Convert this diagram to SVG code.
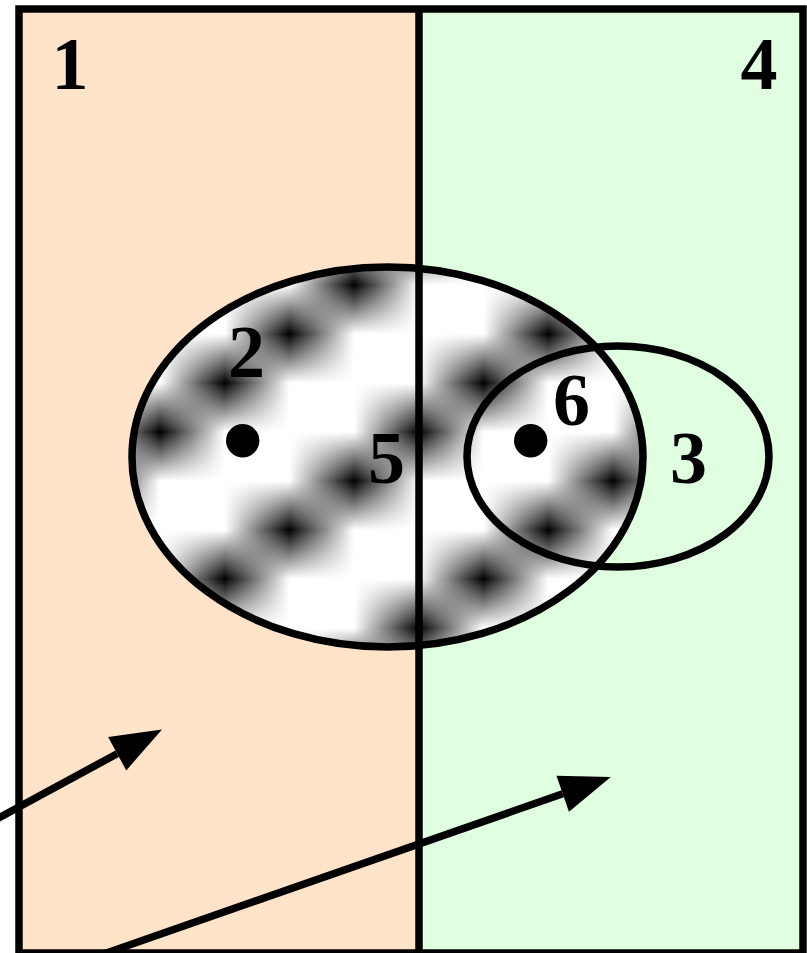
<svg xmlns="http://www.w3.org/2000/svg" xmlns:xlink="http://www.w3.org/1999/xlink" width="807" height="953" viewBox="0 0 807 953">
<style>
.ln{fill:none;stroke:#000;stroke-width:7.5}
.lbl{font-family:"Liberation Serif","Times New Roman",serif;font-weight:bold;font-size:74px;fill:#000;text-anchor:middle}
.dot{fill:#000}
.arr{stroke:#000;stroke-width:7.5;fill:none;marker-end:url(#head)}
</style>
<defs>
<linearGradient id="tx" x1="0" y1="0" x2="1" y2="0">
<stop offset="0" stop-color="#000" stop-opacity="0"/>
<stop offset="0.5" stop-color="#000" stop-opacity="1"/>
<stop offset="1" stop-color="#000" stop-opacity="0"/>
</linearGradient>
<linearGradient id="ty" x1="0" y1="0" x2="0" y2="1">
<stop offset="0" stop-color="#000"/>
<stop offset="0.5" stop-color="#fff"/>
<stop offset="1" stop-color="#000"/>
</linearGradient>
<mask id="my" maskContentUnits="objectBoundingBox">
<rect x="0" y="0" width="1" height="1" fill="url(#ty)"/>
</mask>
<rect id="spot" x="-64.7" y="-49" width="129.4" height="98" fill="url(#tx)" mask="url(#my)"/>
<clipPath id="bigClip"><ellipse cx="387.5" cy="457" rx="255.5" ry="190"/></clipPath>
<marker id="head" markerUnits="userSpaceOnUse" markerWidth="60" markerHeight="44" viewBox="0 -22 60 44" refX="0" refY="0" orient="auto" overflow="visible">
<path d="M0,-19 L51,0 L0,19 Z" fill="#000"/>
</marker>
</defs>

<g id="region1">
<rect x="19" y="9" width="400" height="944" fill="#FFE4CA"/>
</g>
<g id="region4">
<rect x="419" y="9" width="384" height="944" fill="#E0FFE0"/>
</g>

<g id="region5" clip-path="url(#bigClip)">
<rect x="130" y="265" width="515" height="385" fill="#fff"/>
<use href="#spot" x="95.3" y="481"/>
<use href="#spot" x="160" y="432"/>
<use href="#spot" x="224.7" y="383"/>
<use href="#spot" x="289.4" y="334"/>
<use href="#spot" x="354.1" y="285"/>
<use href="#spot" x="418.8" y="236"/>
<use href="#spot" x="95.3" y="677"/>
<use href="#spot" x="160" y="628"/>
<use href="#spot" x="224.7" y="579"/>
<use href="#spot" x="289.4" y="530"/>
<use href="#spot" x="354.1" y="481"/>
<use href="#spot" x="418.8" y="432"/>
<use href="#spot" x="483.5" y="383"/>
<use href="#spot" x="548.2" y="334"/>
<use href="#spot" x="612.9" y="285"/>
<use href="#spot" x="677.6" y="236"/>
<use href="#spot" x="354.1" y="677"/>
<use href="#spot" x="418.8" y="628"/>
<use href="#spot" x="483.5" y="579"/>
<use href="#spot" x="548.2" y="530"/>
<use href="#spot" x="612.9" y="481"/>
<use href="#spot" x="677.6" y="432"/>
<use href="#spot" x="612.9" y="677"/>
<use href="#spot" x="677.6" y="628"/>
</g>

<g id="frame">
<rect class="ln" x="19" y="9" width="784" height="944"/>
<line class="ln" x1="419" y1="9" x2="419" y2="953"/>
</g>

<g id="ellipse-big">
<ellipse class="ln" cx="387.5" cy="457" rx="255.5" ry="190"/>
</g>
<g id="ellipse-small">
<ellipse class="ln" cx="618" cy="456.5" rx="151" ry="110.5"/>
</g>

<g id="point-2"><circle class="dot" cx="242.7" cy="440.7" r="16.7"/></g>
<g id="point-6"><circle class="dot" cx="530.7" cy="440.7" r="16.7"/></g>

<g id="labels">
<text class="lbl" x="70" y="89">1</text>
<text class="lbl" x="759" y="89">4</text>
<text class="lbl" x="246.5" y="377">2</text>
<text class="lbl" x="386.5" y="483">5</text>
<text class="lbl" x="571.5" y="425">6</text>
<text class="lbl" x="688.5" y="483">3</text>
</g>

<g id="connectors">
<line class="arr" x1="-19" y1="827.6" x2="117.2" y2="753.7"/>
<line class="arr" x1="100" y1="955.2" x2="562.7" y2="793.8"/>
</g>
</svg>
